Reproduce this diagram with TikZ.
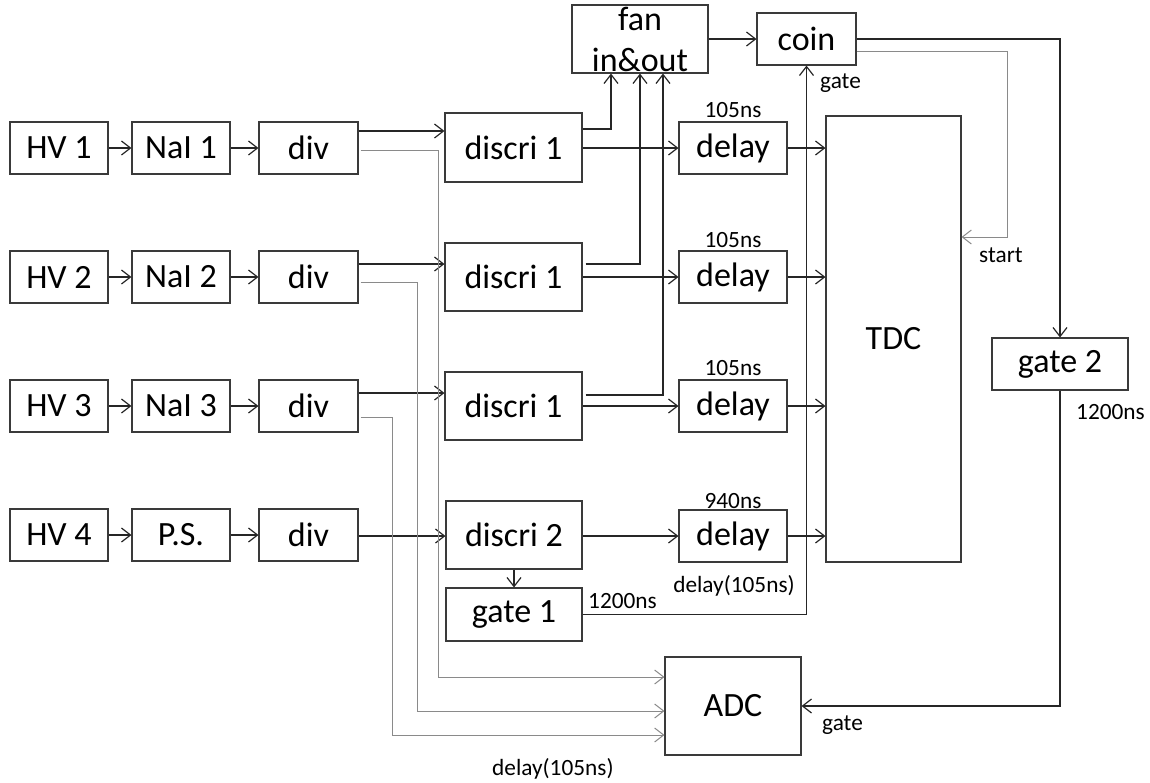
\documentclass[tikz,border=0pt]{standalone}
\usepackage{fontspec}
\setmainfont{Carlito}
\usetikzlibrary{arrows.meta}
\definecolor{boxc}{HTML}{3A3A3A}
\definecolor{linec}{HTML}{262626}
\definecolor{grayc}{HTML}{8A8A8A}
\tikzset{
  box/.style={draw=boxc, line width=1.1pt, inner sep=0pt, text=black, font=\fontsize{34}{40}\selectfont},
  lbl/.style={inner sep=0pt, text=black, font=\fontsize{23.3}{28}\selectfont},
  arr/.style={draw=linec, line width=1.2pt, -{Straight Barb[length=9pt,width=14pt]}},
  garr/.style={draw=grayc, line width=1pt, -{Straight Barb[length=9pt,width=14pt]}}
}
\begin{document}
\begin{tikzpicture}[x=1pt,y=-1pt]
\useasboundingbox (0,0) rectangle (1150,782);
% row 1
\node[box,minimum width=98pt,minimum height=52pt] (hv1) at (59,148) {HV 1};
\node[box,minimum width=98pt,minimum height=52pt] (nai1) at (181,148) {NaI 1};
\node[box,minimum width=99pt,minimum height=52pt] (div1) at (308.5,148) {div};
\node[box,minimum width=137pt,minimum height=69pt] (dis1) at (513.5,147.5) {discri 1};
\node[box,minimum width=108pt,minimum height=52pt] (del1) at (733,148) {delay};
% row 2
\node[box,minimum width=98pt,minimum height=52pt] (hv2) at (59,277) {HV 2};
\node[box,minimum width=98pt,minimum height=52pt] (nai2) at (181,277) {NaI 2};
\node[box,minimum width=99pt,minimum height=52pt] (div2) at (308.5,277) {div};
\node[box,minimum width=137pt,minimum height=68pt] (dis2) at (513.5,277) {discri 1};
\node[box,minimum width=108pt,minimum height=52pt] (del2) at (733,277) {delay};
% row 3
\node[box,minimum width=98pt,minimum height=52pt] (hv3) at (59,406) {HV 3};
\node[box,minimum width=98pt,minimum height=52pt] (nai3) at (181,406) {NaI 3};
\node[box,minimum width=99pt,minimum height=52pt] (div3) at (308.5,406) {div};
\node[box,minimum width=137pt,minimum height=68pt] (dis3) at (513.5,406) {discri 1};
\node[box,minimum width=108pt,minimum height=52pt] (del3) at (733,406) {delay};
% row 4
\node[box,minimum width=98pt,minimum height=52pt] (hv4) at (59,535) {HV 4};
\node[box,minimum width=98pt,minimum height=52pt] (ps) at (181,535) {P.S.};
\node[box,minimum width=99pt,minimum height=52pt] (div4) at (308.5,535) {div};
\node[box,minimum width=136pt,minimum height=68pt] (dis4) at (514,535) {discri 2};
\node[box,minimum width=108pt,minimum height=52pt] (del4) at (733,536) {delay};
% others
\node[box,minimum width=136pt,minimum height=53pt] (gate1) at (514,614.5) {gate 1};
\node[box,minimum width=135pt,minimum height=446pt] (TDC) at (893.5,339) {TDC};
\node[box,minimum width=136pt,minimum height=98pt] (ADC) at (733,706) {ADC};
\node[box,minimum width=136pt,minimum height=52pt] (gate2) at (1060,364) {gate 2};
\node[box,minimum width=99pt,minimum height=52pt] (coin) at (806.5,39) {coin};
\node[box,minimum width=136pt,minimum height=68pt] (fan) at (640,39) {};
\node[inner sep=0pt,anchor=base,font=\fontsize{34}{40}\selectfont] (fanA) at (640,30) {fan};
\node[inner sep=0pt,anchor=base,font=\fontsize{34}{40}\selectfont] (fanB) at (640,71) {in\&out};
% chain arrows
\draw[arr] (hv1.east) -- (nai1.west);
\draw[arr] (nai1.east) -- (div1.west);
\draw[arr] (hv2.east) -- (nai2.west);
\draw[arr] (nai2.east) -- (div2.west);
\draw[arr] (hv3.east) -- (nai3.west);
\draw[arr] (nai3.east) -- (div3.west);
\draw[arr] (hv4.east) -- (ps.west);
\draw[arr] (ps.east) -- (div4.west);
% div -> discri
\draw[arr] (div1.east |- 0,131) -- (dis1.west |- 0,131);
\draw[arr] (div2.east |- 0,264) -- (dis2.west |- 0,264);
\draw[arr] (div3.east |- 0,393) -- (dis3.west |- 0,393);
\draw[arr] (div4.east |- 0,536) -- (dis4.west |- 0,536);
% div -> ADC (gray)
\draw[garr] ([xshift=2pt]div1.east |- 0,150) -| (438,677) -- (ADC.west |- 0,677);
\draw[garr] ([xshift=2pt]div2.east |- 0,282) -| (417,711) -- (ADC.west |- 0,711);
\draw[garr] ([xshift=2pt]div3.east |- 0,417) -| (392,735) -- (ADC.west |- 0,735);
% discri -> delay
\draw[arr] (dis1.east |- del1.west) -- (del1.west);
\draw[arr] (dis2.east |- del2.west) -- (del2.west);
\draw[arr] (dis3.east |- del3.west) -- (del3.west);
\draw[arr] (dis4.east |- del4.west) -- (del4.west);
% discri -> fan
\draw[arr] (dis1.east |- 0,129) -| (fan.south -| 611,0);
\draw[arr] ([xshift=3pt]dis2.east |- 0,264) -| (fan.south);
\draw[arr] ([xshift=3pt]dis3.east |- 0,395) -| (fan.south -| 663,0);
% delay -> TDC
\draw[arr] (del1.east) -- (del1.east -| TDC.west);
\draw[arr] (del2.east) -- (del2.east -| TDC.west);
\draw[arr] (del3.east) -- (del3.east -| TDC.west);
\draw[arr] (del4.east) -- (del4.east -| TDC.west);
% gate / coin
\draw[arr] (dis4.south) -- (gate1.north);
\draw[arr] (gate1.east) -| (coin.south);
\draw[arr] (fan.east) -- (coin.west);
\draw[arr] (coin.east) -| (gate2.north);
\coordinate (st) at (1007,237);
\draw[garr] (coin.east |- 0,51) -| (st) -- (st -| TDC.east);
\draw[arr] (gate2.south) |- (ADC.east);
% labels
\node[lbl,anchor=base] (t1) at (733,117) {105ns};
\node[lbl,anchor=base] (t2) at (733,247) {105ns};
\node[lbl,anchor=base] (t3) at (733,375) {105ns};
\node[lbl,anchor=base] (t4) at (733,508) {940ns};
\node[lbl,anchor=base] (t5) at (734,592) {delay(105ns)};
\node[lbl,anchor=base west] (t6) at (588,608) {1200ns};
\node[lbl,anchor=base west] (t7) at (820,88) {gate};
\node[lbl,anchor=base west] (t8) at (979,262) {start};
\node[lbl,anchor=base west] (t9) at (1076,419) {1200ns};
\node[lbl,anchor=base west] (t10) at (822,730) {gate};
\node[lbl,anchor=base west] (t11) at (492,775) {delay(105ns)};
\end{tikzpicture}
\end{document}
